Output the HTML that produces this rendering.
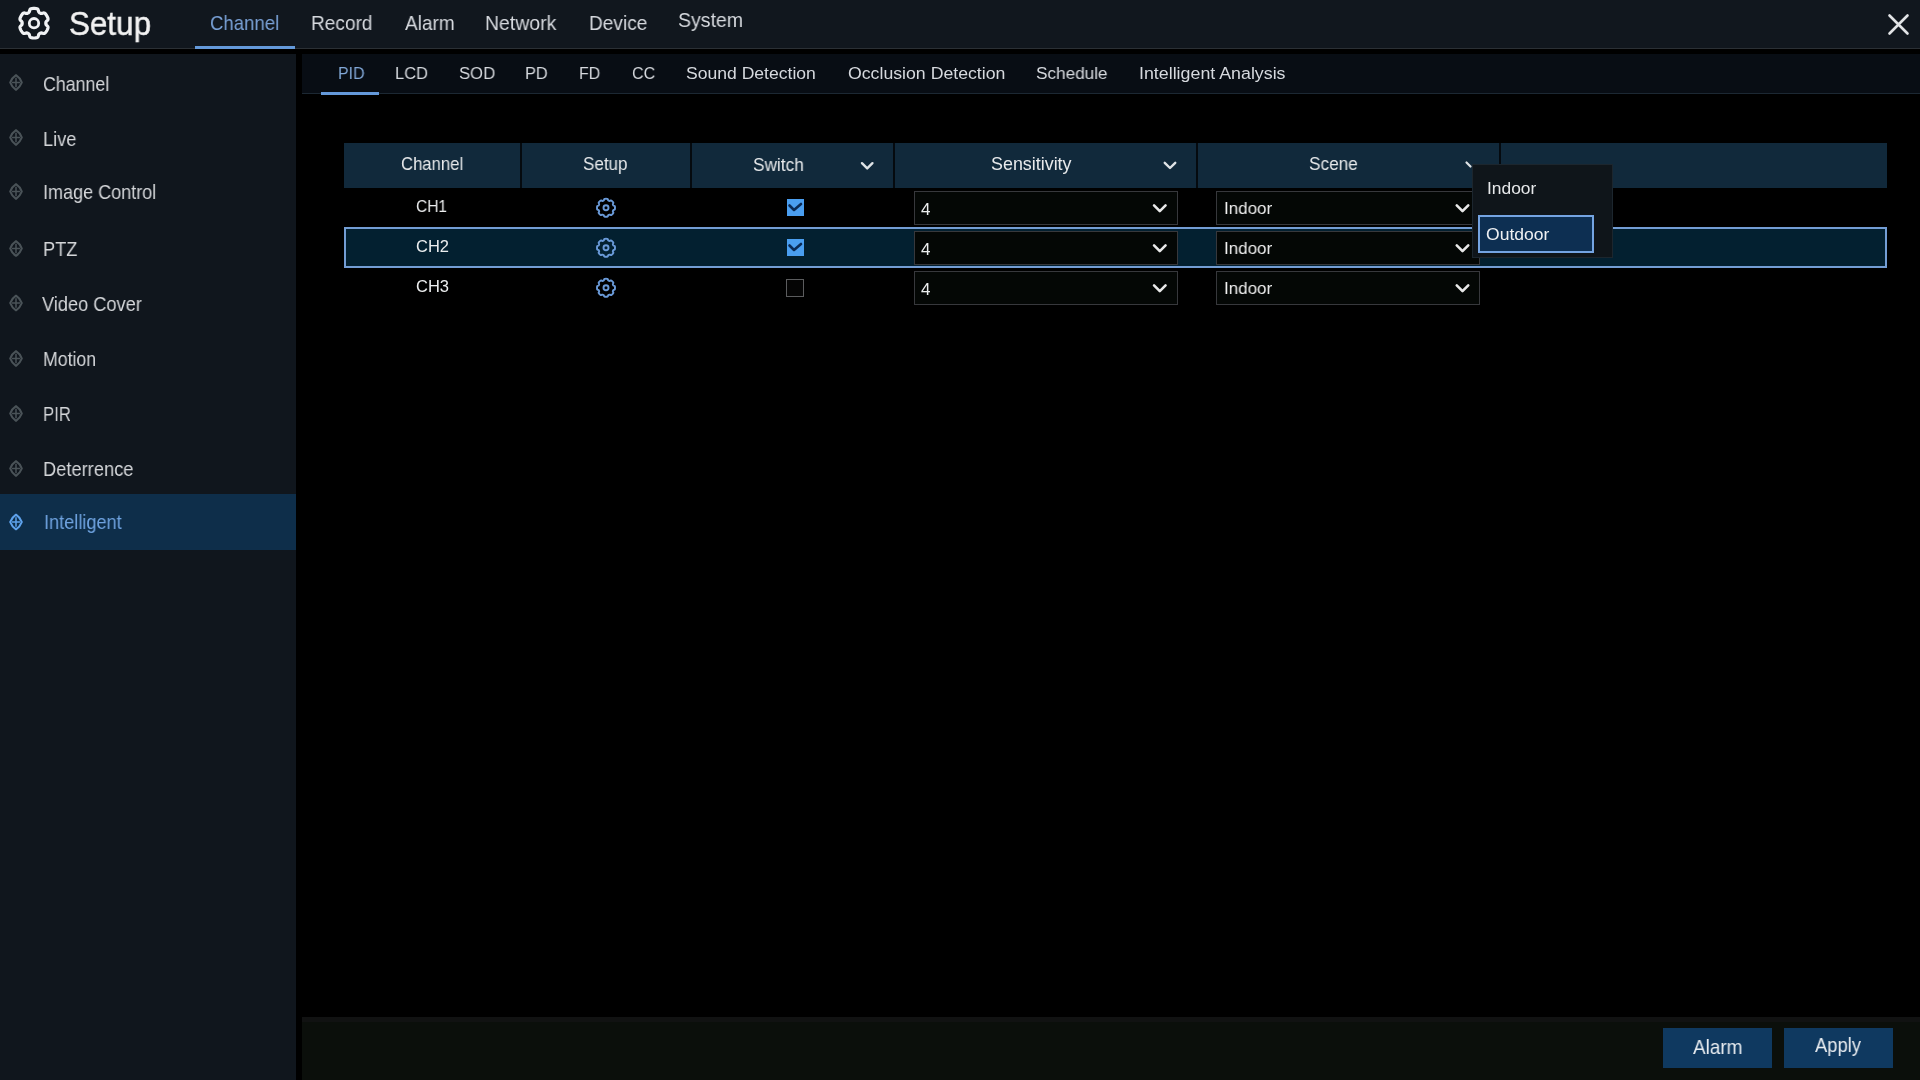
<!DOCTYPE html>
<html><head><meta charset="utf-8"><style>
*{margin:0;padding:0;box-sizing:border-box}
html,body{width:1920px;height:1080px;overflow:hidden;background:#000;font-family:"Liberation Sans",sans-serif}
.a{position:absolute}
.t{position:absolute;white-space:nowrap;will-change:transform}
svg{position:absolute;left:0;top:0}
</style></head><body>
<!-- header -->
<div class="a" style="left:0;top:0;width:1920px;height:48px;background:#11171e"></div>
<div class="a" style="left:0;top:48px;width:1920px;height:1px;background:#2b3035"></div>
<div class="a" style="left:195px;top:46px;width:100px;height:3px;background:#6499da"></div>
<!-- sidebar -->
<div class="a" style="left:0;top:54px;width:296px;height:1026px;background:#10161d"></div>
<div class="a" style="left:0;top:494px;width:296px;height:56px;background:#0e2e4a"></div>
<!-- sub tabs bar -->
<div class="a" style="left:302px;top:54px;width:1618px;height:40px;background:#080d14"></div>
<div class="a" style="left:302px;top:93px;width:1618px;height:1px;background:#1c2833"></div>
<div class="a" style="left:321px;top:92px;width:58px;height:3px;background:#6499da"></div>
<!-- table header -->
<div class="a" style="left:344px;top:143px;width:1543px;height:45px;background:#11293b"></div>
<div class="a" style="left:520px;top:143px;width:2px;height:45px;background:#050a0f"></div>
<div class="a" style="left:690px;top:143px;width:2px;height:45px;background:#050a0f"></div>
<div class="a" style="left:893px;top:143px;width:2px;height:45px;background:#050a0f"></div>
<div class="a" style="left:1196px;top:143px;width:2px;height:45px;background:#050a0f"></div>
<div class="a" style="left:1499px;top:143px;width:2px;height:45px;background:#050a0f"></div>
<!-- highlighted row -->
<div class="a" style="left:344px;top:227px;width:1543px;height:41px;background:#032030;border:2px solid #739dd4"></div>
<!-- selects -->
<div class="a" style="left:914px;top:191px;width:264px;height:34px;background:#040705;border:1px solid #37383c"></div>
<div class="a" style="left:1216px;top:191px;width:264px;height:34px;background:#040705;border:1px solid #37383c"></div>
<div class="a" style="left:914px;top:231px;width:264px;height:34px;background:#040705;border:1px solid #37383c"></div>
<div class="a" style="left:1216px;top:231px;width:264px;height:34px;background:#040705;border:1px solid #37383c"></div>
<div class="a" style="left:914px;top:271px;width:264px;height:34px;background:#040705;border:1px solid #37383c"></div>
<div class="a" style="left:1216px;top:271px;width:264px;height:34px;background:#040705;border:1px solid #37383c"></div>

<!-- checkboxes -->
<div class="a" style="left:787px;top:199px;width:17px;height:17px;background:#4a9ef0"></div>
<div class="a" style="left:787px;top:239px;width:17px;height:17px;background:#4a9ef0"></div>
<div class="a" style="left:786px;top:279px;width:18px;height:18px;border:1.5px solid #5b5c5e;background:#050505"></div>
<!-- popup -->
<div class="a" style="left:1472px;top:164px;width:141px;height:94px;background:#0f151a;border:1px solid #1c262e"></div>
<div class="a" style="left:1478px;top:215px;width:116px;height:38px;background:#0d2f52;border:2px solid #74a4e2"></div>
<!-- bottom bar -->
<div class="a" style="left:302px;top:1017px;width:1618px;height:63px;background:#0b0f0b;border-top:5px solid #111212"></div>
<div class="a" style="left:1663px;top:1028px;width:109px;height:40px;background:#0f3960"></div>
<div class="a" style="left:1784px;top:1028px;width:109px;height:40px;background:#0f3960"></div>
<svg width="1920" height="1080" viewBox="0 0 1920 1080">
<path d="M45.81,23.20 L45.82,22.89 L45.85,22.58 L45.90,22.26 L46.02,21.94 L46.21,21.59 L46.53,21.22 L46.96,20.80 L47.42,20.35 L47.78,19.89 L47.98,19.45 L48.03,19.04 L48.00,18.65 L47.92,18.27 L47.80,17.90 L47.66,17.54 L47.52,17.18 L47.36,16.83 L47.19,16.48 L47.01,16.14 L46.82,15.80 L46.62,15.47 L46.41,15.14 L46.20,14.82 L45.97,14.50 L45.73,14.20 L45.49,13.90 L45.22,13.61 L44.94,13.35 L44.62,13.12 L44.23,12.97 L43.76,12.92 L43.18,13.00 L42.56,13.17 L41.99,13.34 L41.50,13.43 L41.10,13.43 L40.76,13.36 L40.46,13.25 L40.18,13.12 L39.91,12.97 L39.64,12.81 L39.39,12.63 L39.14,12.42 L38.91,12.16 L38.71,11.82 L38.55,11.35 L38.40,10.77 L38.24,10.15 L38.03,9.61 L37.75,9.22 L37.42,8.97 L37.06,8.80 L36.69,8.69 L36.31,8.60 L35.93,8.54 L35.55,8.49 L35.16,8.45 L34.77,8.42 L34.39,8.41 L34.00,8.40 L33.61,8.41 L33.23,8.42 L32.84,8.45 L32.45,8.49 L32.07,8.54 L31.69,8.60 L31.31,8.69 L30.94,8.80 L30.58,8.97 L30.25,9.22 L29.97,9.61 L29.76,10.15 L29.60,10.77 L29.45,11.35 L29.29,11.82 L29.09,12.16 L28.86,12.42 L28.61,12.63 L28.36,12.81 L28.09,12.97 L27.82,13.12 L27.54,13.25 L27.24,13.36 L26.90,13.43 L26.50,13.43 L26.01,13.34 L25.44,13.17 L24.82,13.00 L24.24,12.92 L23.77,12.97 L23.38,13.12 L23.06,13.35 L22.78,13.61 L22.51,13.90 L22.27,14.20 L22.03,14.50 L21.80,14.82 L21.59,15.14 L21.38,15.47 L21.18,15.80 L20.99,16.14 L20.81,16.48 L20.64,16.83 L20.48,17.18 L20.34,17.54 L20.20,17.90 L20.08,18.27 L20.00,18.65 L19.97,19.04 L20.02,19.45 L20.22,19.89 L20.58,20.35 L21.04,20.80 L21.47,21.22 L21.79,21.59 L21.98,21.94 L22.10,22.26 L22.15,22.58 L22.18,22.89 L22.19,23.20 L22.18,23.51 L22.15,23.82 L22.10,24.14 L21.98,24.46 L21.79,24.81 L21.47,25.18 L21.04,25.60 L20.58,26.05 L20.22,26.51 L20.02,26.95 L19.97,27.36 L20.00,27.75 L20.08,28.13 L20.20,28.50 L20.34,28.86 L20.48,29.22 L20.64,29.57 L20.81,29.92 L20.99,30.26 L21.18,30.60 L21.38,30.93 L21.59,31.26 L21.80,31.58 L22.03,31.90 L22.27,32.20 L22.51,32.50 L22.78,32.79 L23.06,33.05 L23.38,33.28 L23.77,33.43 L24.24,33.48 L24.82,33.40 L25.44,33.23 L26.01,33.06 L26.50,32.97 L26.90,32.97 L27.24,33.04 L27.54,33.15 L27.82,33.28 L28.09,33.43 L28.36,33.59 L28.61,33.77 L28.86,33.98 L29.09,34.24 L29.29,34.58 L29.45,35.05 L29.60,35.63 L29.76,36.25 L29.97,36.79 L30.25,37.18 L30.58,37.43 L30.94,37.60 L31.31,37.71 L31.69,37.80 L32.07,37.86 L32.45,37.91 L32.84,37.95 L33.23,37.98 L33.61,37.99 L34.00,38.00 L34.39,37.99 L34.77,37.98 L35.16,37.95 L35.55,37.91 L35.93,37.86 L36.31,37.80 L36.69,37.71 L37.06,37.60 L37.42,37.43 L37.75,37.18 L38.03,36.79 L38.24,36.25 L38.40,35.63 L38.55,35.05 L38.71,34.58 L38.91,34.24 L39.14,33.98 L39.39,33.77 L39.64,33.59 L39.91,33.43 L40.18,33.28 L40.46,33.15 L40.76,33.04 L41.10,32.97 L41.50,32.97 L41.99,33.06 L42.56,33.23 L43.18,33.40 L43.76,33.48 L44.23,33.43 L44.62,33.28 L44.94,33.05 L45.22,32.79 L45.49,32.50 L45.73,32.20 L45.97,31.90 L46.20,31.58 L46.41,31.26 L46.62,30.93 L46.82,30.60 L47.01,30.26 L47.19,29.92 L47.36,29.57 L47.52,29.22 L47.66,28.86 L47.80,28.50 L47.92,28.13 L48.00,27.75 L48.03,27.36 L47.98,26.95 L47.78,26.51 L47.42,26.05 L46.96,25.60 L46.53,25.18 L46.21,24.81 L46.02,24.46 L45.90,24.14 L45.85,23.82 L45.82,23.51 Z" fill="none" stroke="#f0f2f4" stroke-width="3.2"/>
<circle cx="34" cy="23.2" r="4.7" fill="none" stroke="#f0f2f4" stroke-width="2.8"/>
<path d="M1889.5,15.5 L1907.5,33.5 M1907.5,15.5 L1889.5,33.5" stroke="#e2e4e6" stroke-width="2.6" stroke-linecap="round"/>
<path d="M16,75.2 Q20.18,77.97 21.8,82.5 Q20.18,87.03 16,89.8 Q11.82,87.03 10.2,82.5 Q11.82,77.97 16,75.2 Z" fill="none" stroke="#4a5358" stroke-width="2.1" stroke-linejoin="round"/><path d="M16,77.7 V87.3 M12,82.5 H20" stroke="#4a5358" stroke-width="1.5"/><path d="M16,130.2 Q20.18,132.97 21.8,137.5 Q20.18,142.03 16,144.8 Q11.82,142.03 10.2,137.5 Q11.82,132.97 16,130.2 Z" fill="none" stroke="#4a5358" stroke-width="2.1" stroke-linejoin="round"/><path d="M16,132.7 V142.3 M12,137.5 H20" stroke="#4a5358" stroke-width="1.5"/><path d="M16,184.2 Q20.18,186.97 21.8,191.5 Q20.18,196.03 16,198.8 Q11.82,196.03 10.2,191.5 Q11.82,186.97 16,184.2 Z" fill="none" stroke="#4a5358" stroke-width="2.1" stroke-linejoin="round"/><path d="M16,186.7 V196.3 M12,191.5 H20" stroke="#4a5358" stroke-width="1.5"/><path d="M16,241.2 Q20.18,243.97 21.8,248.5 Q20.18,253.03 16,255.8 Q11.82,253.03 10.2,248.5 Q11.82,243.97 16,241.2 Z" fill="none" stroke="#4a5358" stroke-width="2.1" stroke-linejoin="round"/><path d="M16,243.7 V253.3 M12,248.5 H20" stroke="#4a5358" stroke-width="1.5"/><path d="M16,295.7 Q20.18,298.47 21.8,303 Q20.18,307.53 16,310.3 Q11.82,307.53 10.2,303 Q11.82,298.47 16,295.7 Z" fill="none" stroke="#4a5358" stroke-width="2.1" stroke-linejoin="round"/><path d="M16,298.2 V307.8 M12,303 H20" stroke="#4a5358" stroke-width="1.5"/><path d="M16,351.2 Q20.18,353.97 21.8,358.5 Q20.18,363.03 16,365.8 Q11.82,363.03 10.2,358.5 Q11.82,353.97 16,351.2 Z" fill="none" stroke="#4a5358" stroke-width="2.1" stroke-linejoin="round"/><path d="M16,353.7 V363.3 M12,358.5 H20" stroke="#4a5358" stroke-width="1.5"/><path d="M16,406.2 Q20.18,408.97 21.8,413.5 Q20.18,418.03 16,420.8 Q11.82,418.03 10.2,413.5 Q11.82,408.97 16,406.2 Z" fill="none" stroke="#4a5358" stroke-width="2.1" stroke-linejoin="round"/><path d="M16,408.7 V418.3 M12,413.5 H20" stroke="#4a5358" stroke-width="1.5"/><path d="M16,461.2 Q20.18,463.97 21.8,468.5 Q20.18,473.03 16,475.8 Q11.82,473.03 10.2,468.5 Q11.82,463.97 16,461.2 Z" fill="none" stroke="#4a5358" stroke-width="2.1" stroke-linejoin="round"/><path d="M16,463.7 V473.3 M12,468.5 H20" stroke="#4a5358" stroke-width="1.5"/><path d="M16,514.7 Q20.18,517.47 21.8,522 Q20.18,526.53 16,529.3 Q11.82,526.53 10.2,522 Q11.82,517.47 16,514.7 Z" fill="none" stroke="#5ea2ec" stroke-width="2.1" stroke-linejoin="round"/><path d="M16,517.2 V526.8 M12,522 H20" stroke="#5ea2ec" stroke-width="1.5"/>
<path d="M861.95,163.20 L867.20,168.40 L872.45,163.20" fill="none" stroke="#dfe3e6" stroke-width="2.4" stroke-linecap="round" stroke-linejoin="round"/><path d="M1164.75,162.80 L1170.00,168.00 L1175.25,162.80" fill="none" stroke="#dfe3e6" stroke-width="2.4" stroke-linecap="round" stroke-linejoin="round"/><path d="M1154.05,205.30 L1159.80,211.10 L1165.55,205.30" fill="none" stroke="#e8e8e8" stroke-width="2.6" stroke-linecap="round" stroke-linejoin="round"/><path d="M1456.75,205.30 L1462.50,211.10 L1468.25,205.30" fill="none" stroke="#e8e8e8" stroke-width="2.6" stroke-linecap="round" stroke-linejoin="round"/><path d="M1154.05,245.30 L1159.80,251.10 L1165.55,245.30" fill="none" stroke="#e8e8e8" stroke-width="2.6" stroke-linecap="round" stroke-linejoin="round"/><path d="M1456.75,245.30 L1462.50,251.10 L1468.25,245.30" fill="none" stroke="#e8e8e8" stroke-width="2.6" stroke-linecap="round" stroke-linejoin="round"/><path d="M1154.05,285.30 L1159.80,291.10 L1165.55,285.30" fill="none" stroke="#e8e8e8" stroke-width="2.6" stroke-linecap="round" stroke-linejoin="round"/><path d="M1456.75,285.30 L1462.50,291.10 L1468.25,285.30" fill="none" stroke="#e8e8e8" stroke-width="2.6" stroke-linecap="round" stroke-linejoin="round"/>
<g transform="translate(606,207.8)"><path d="M9.00,0.00 L9.00,-0.24 L8.99,-0.47 L8.97,-0.71 L8.95,-0.94 L8.92,-1.17 L8.86,-1.40 L8.77,-1.62 L8.55,-1.82 L8.15,-1.96 L7.73,-2.07 L7.46,-2.21 L7.31,-2.37 L7.21,-2.55 L7.12,-2.73 L7.05,-2.92 L6.97,-3.10 L6.90,-3.29 L6.85,-3.49 L6.84,-3.71 L6.93,-4.00 L7.15,-4.38 L7.33,-4.76 L7.35,-5.05 L7.26,-5.27 L7.13,-5.47 L6.99,-5.66 L6.84,-5.84 L6.69,-6.02 L6.53,-6.20 L6.36,-6.36 L6.20,-6.53 L6.02,-6.69 L5.84,-6.84 L5.66,-6.99 L5.47,-7.13 L5.27,-7.26 L5.05,-7.35 L4.76,-7.33 L4.38,-7.15 L4.00,-6.93 L3.71,-6.84 L3.49,-6.85 L3.29,-6.90 L3.10,-6.97 L2.92,-7.05 L2.73,-7.12 L2.55,-7.21 L2.37,-7.31 L2.21,-7.46 L2.07,-7.73 L1.96,-8.15 L1.82,-8.55 L1.62,-8.77 L1.40,-8.86 L1.17,-8.92 L0.94,-8.95 L0.71,-8.97 L0.47,-8.99 L0.24,-9.00 L0.00,-9.00 L-0.24,-9.00 L-0.47,-8.99 L-0.71,-8.97 L-0.94,-8.95 L-1.17,-8.92 L-1.40,-8.86 L-1.62,-8.77 L-1.82,-8.55 L-1.96,-8.15 L-2.07,-7.73 L-2.21,-7.46 L-2.37,-7.31 L-2.55,-7.21 L-2.73,-7.12 L-2.92,-7.05 L-3.10,-6.97 L-3.29,-6.90 L-3.49,-6.85 L-3.71,-6.84 L-4.00,-6.93 L-4.38,-7.15 L-4.76,-7.33 L-5.05,-7.35 L-5.27,-7.26 L-5.47,-7.13 L-5.66,-6.99 L-5.84,-6.84 L-6.02,-6.69 L-6.20,-6.53 L-6.36,-6.36 L-6.53,-6.20 L-6.69,-6.02 L-6.84,-5.84 L-6.99,-5.66 L-7.13,-5.47 L-7.26,-5.27 L-7.35,-5.05 L-7.33,-4.76 L-7.15,-4.38 L-6.93,-4.00 L-6.84,-3.71 L-6.85,-3.49 L-6.90,-3.29 L-6.97,-3.10 L-7.05,-2.92 L-7.12,-2.73 L-7.21,-2.55 L-7.31,-2.37 L-7.46,-2.21 L-7.73,-2.07 L-8.15,-1.96 L-8.55,-1.82 L-8.77,-1.62 L-8.86,-1.40 L-8.92,-1.17 L-8.95,-0.94 L-8.97,-0.71 L-8.99,-0.47 L-9.00,-0.24 L-9.00,-0.00 L-9.00,0.24 L-8.99,0.47 L-8.97,0.71 L-8.95,0.94 L-8.92,1.17 L-8.86,1.40 L-8.77,1.62 L-8.55,1.82 L-8.15,1.96 L-7.73,2.07 L-7.46,2.21 L-7.31,2.37 L-7.21,2.55 L-7.12,2.73 L-7.05,2.92 L-6.97,3.10 L-6.90,3.29 L-6.85,3.49 L-6.84,3.71 L-6.93,4.00 L-7.15,4.38 L-7.33,4.76 L-7.35,5.05 L-7.26,5.27 L-7.13,5.47 L-6.99,5.66 L-6.84,5.84 L-6.69,6.02 L-6.53,6.20 L-6.36,6.36 L-6.20,6.53 L-6.02,6.69 L-5.84,6.84 L-5.66,6.99 L-5.47,7.13 L-5.27,7.26 L-5.05,7.35 L-4.76,7.33 L-4.38,7.15 L-4.00,6.93 L-3.71,6.84 L-3.49,6.85 L-3.29,6.90 L-3.10,6.97 L-2.92,7.05 L-2.73,7.12 L-2.55,7.21 L-2.37,7.31 L-2.21,7.46 L-2.07,7.73 L-1.96,8.15 L-1.82,8.55 L-1.62,8.77 L-1.40,8.86 L-1.17,8.92 L-0.94,8.95 L-0.71,8.97 L-0.47,8.99 L-0.24,9.00 L-0.00,9.00 L0.24,9.00 L0.47,8.99 L0.71,8.97 L0.94,8.95 L1.17,8.92 L1.40,8.86 L1.62,8.77 L1.82,8.55 L1.96,8.15 L2.07,7.73 L2.21,7.46 L2.37,7.31 L2.55,7.21 L2.73,7.12 L2.92,7.05 L3.10,6.97 L3.29,6.90 L3.49,6.85 L3.71,6.84 L4.00,6.93 L4.38,7.15 L4.76,7.33 L5.05,7.35 L5.27,7.26 L5.47,7.13 L5.66,6.99 L5.84,6.84 L6.02,6.69 L6.20,6.53 L6.36,6.36 L6.53,6.20 L6.69,6.02 L6.84,5.84 L6.99,5.66 L7.13,5.47 L7.26,5.27 L7.35,5.05 L7.33,4.76 L7.15,4.38 L6.93,4.00 L6.84,3.71 L6.85,3.49 L6.90,3.29 L6.97,3.10 L7.05,2.92 L7.12,2.73 L7.21,2.55 L7.31,2.37 L7.46,2.21 L7.73,2.07 L8.15,1.96 L8.55,1.82 L8.77,1.62 L8.86,1.40 L8.92,1.17 L8.95,0.94 L8.97,0.71 L8.99,0.47 L9.00,0.24 Z" fill="none" stroke="#6a9ad8" stroke-width="1.9"/><circle cx="0" cy="0" r="2.5" fill="none" stroke="#6a9ad8" stroke-width="1.9"/></g><g transform="translate(606,247.8)"><path d="M9.00,0.00 L9.00,-0.24 L8.99,-0.47 L8.97,-0.71 L8.95,-0.94 L8.92,-1.17 L8.86,-1.40 L8.77,-1.62 L8.55,-1.82 L8.15,-1.96 L7.73,-2.07 L7.46,-2.21 L7.31,-2.37 L7.21,-2.55 L7.12,-2.73 L7.05,-2.92 L6.97,-3.10 L6.90,-3.29 L6.85,-3.49 L6.84,-3.71 L6.93,-4.00 L7.15,-4.38 L7.33,-4.76 L7.35,-5.05 L7.26,-5.27 L7.13,-5.47 L6.99,-5.66 L6.84,-5.84 L6.69,-6.02 L6.53,-6.20 L6.36,-6.36 L6.20,-6.53 L6.02,-6.69 L5.84,-6.84 L5.66,-6.99 L5.47,-7.13 L5.27,-7.26 L5.05,-7.35 L4.76,-7.33 L4.38,-7.15 L4.00,-6.93 L3.71,-6.84 L3.49,-6.85 L3.29,-6.90 L3.10,-6.97 L2.92,-7.05 L2.73,-7.12 L2.55,-7.21 L2.37,-7.31 L2.21,-7.46 L2.07,-7.73 L1.96,-8.15 L1.82,-8.55 L1.62,-8.77 L1.40,-8.86 L1.17,-8.92 L0.94,-8.95 L0.71,-8.97 L0.47,-8.99 L0.24,-9.00 L0.00,-9.00 L-0.24,-9.00 L-0.47,-8.99 L-0.71,-8.97 L-0.94,-8.95 L-1.17,-8.92 L-1.40,-8.86 L-1.62,-8.77 L-1.82,-8.55 L-1.96,-8.15 L-2.07,-7.73 L-2.21,-7.46 L-2.37,-7.31 L-2.55,-7.21 L-2.73,-7.12 L-2.92,-7.05 L-3.10,-6.97 L-3.29,-6.90 L-3.49,-6.85 L-3.71,-6.84 L-4.00,-6.93 L-4.38,-7.15 L-4.76,-7.33 L-5.05,-7.35 L-5.27,-7.26 L-5.47,-7.13 L-5.66,-6.99 L-5.84,-6.84 L-6.02,-6.69 L-6.20,-6.53 L-6.36,-6.36 L-6.53,-6.20 L-6.69,-6.02 L-6.84,-5.84 L-6.99,-5.66 L-7.13,-5.47 L-7.26,-5.27 L-7.35,-5.05 L-7.33,-4.76 L-7.15,-4.38 L-6.93,-4.00 L-6.84,-3.71 L-6.85,-3.49 L-6.90,-3.29 L-6.97,-3.10 L-7.05,-2.92 L-7.12,-2.73 L-7.21,-2.55 L-7.31,-2.37 L-7.46,-2.21 L-7.73,-2.07 L-8.15,-1.96 L-8.55,-1.82 L-8.77,-1.62 L-8.86,-1.40 L-8.92,-1.17 L-8.95,-0.94 L-8.97,-0.71 L-8.99,-0.47 L-9.00,-0.24 L-9.00,-0.00 L-9.00,0.24 L-8.99,0.47 L-8.97,0.71 L-8.95,0.94 L-8.92,1.17 L-8.86,1.40 L-8.77,1.62 L-8.55,1.82 L-8.15,1.96 L-7.73,2.07 L-7.46,2.21 L-7.31,2.37 L-7.21,2.55 L-7.12,2.73 L-7.05,2.92 L-6.97,3.10 L-6.90,3.29 L-6.85,3.49 L-6.84,3.71 L-6.93,4.00 L-7.15,4.38 L-7.33,4.76 L-7.35,5.05 L-7.26,5.27 L-7.13,5.47 L-6.99,5.66 L-6.84,5.84 L-6.69,6.02 L-6.53,6.20 L-6.36,6.36 L-6.20,6.53 L-6.02,6.69 L-5.84,6.84 L-5.66,6.99 L-5.47,7.13 L-5.27,7.26 L-5.05,7.35 L-4.76,7.33 L-4.38,7.15 L-4.00,6.93 L-3.71,6.84 L-3.49,6.85 L-3.29,6.90 L-3.10,6.97 L-2.92,7.05 L-2.73,7.12 L-2.55,7.21 L-2.37,7.31 L-2.21,7.46 L-2.07,7.73 L-1.96,8.15 L-1.82,8.55 L-1.62,8.77 L-1.40,8.86 L-1.17,8.92 L-0.94,8.95 L-0.71,8.97 L-0.47,8.99 L-0.24,9.00 L-0.00,9.00 L0.24,9.00 L0.47,8.99 L0.71,8.97 L0.94,8.95 L1.17,8.92 L1.40,8.86 L1.62,8.77 L1.82,8.55 L1.96,8.15 L2.07,7.73 L2.21,7.46 L2.37,7.31 L2.55,7.21 L2.73,7.12 L2.92,7.05 L3.10,6.97 L3.29,6.90 L3.49,6.85 L3.71,6.84 L4.00,6.93 L4.38,7.15 L4.76,7.33 L5.05,7.35 L5.27,7.26 L5.47,7.13 L5.66,6.99 L5.84,6.84 L6.02,6.69 L6.20,6.53 L6.36,6.36 L6.53,6.20 L6.69,6.02 L6.84,5.84 L6.99,5.66 L7.13,5.47 L7.26,5.27 L7.35,5.05 L7.33,4.76 L7.15,4.38 L6.93,4.00 L6.84,3.71 L6.85,3.49 L6.90,3.29 L6.97,3.10 L7.05,2.92 L7.12,2.73 L7.21,2.55 L7.31,2.37 L7.46,2.21 L7.73,2.07 L8.15,1.96 L8.55,1.82 L8.77,1.62 L8.86,1.40 L8.92,1.17 L8.95,0.94 L8.97,0.71 L8.99,0.47 L9.00,0.24 Z" fill="none" stroke="#6a9ad8" stroke-width="1.9"/><circle cx="0" cy="0" r="2.5" fill="none" stroke="#6a9ad8" stroke-width="1.9"/></g><g transform="translate(606,287.8)"><path d="M9.00,0.00 L9.00,-0.24 L8.99,-0.47 L8.97,-0.71 L8.95,-0.94 L8.92,-1.17 L8.86,-1.40 L8.77,-1.62 L8.55,-1.82 L8.15,-1.96 L7.73,-2.07 L7.46,-2.21 L7.31,-2.37 L7.21,-2.55 L7.12,-2.73 L7.05,-2.92 L6.97,-3.10 L6.90,-3.29 L6.85,-3.49 L6.84,-3.71 L6.93,-4.00 L7.15,-4.38 L7.33,-4.76 L7.35,-5.05 L7.26,-5.27 L7.13,-5.47 L6.99,-5.66 L6.84,-5.84 L6.69,-6.02 L6.53,-6.20 L6.36,-6.36 L6.20,-6.53 L6.02,-6.69 L5.84,-6.84 L5.66,-6.99 L5.47,-7.13 L5.27,-7.26 L5.05,-7.35 L4.76,-7.33 L4.38,-7.15 L4.00,-6.93 L3.71,-6.84 L3.49,-6.85 L3.29,-6.90 L3.10,-6.97 L2.92,-7.05 L2.73,-7.12 L2.55,-7.21 L2.37,-7.31 L2.21,-7.46 L2.07,-7.73 L1.96,-8.15 L1.82,-8.55 L1.62,-8.77 L1.40,-8.86 L1.17,-8.92 L0.94,-8.95 L0.71,-8.97 L0.47,-8.99 L0.24,-9.00 L0.00,-9.00 L-0.24,-9.00 L-0.47,-8.99 L-0.71,-8.97 L-0.94,-8.95 L-1.17,-8.92 L-1.40,-8.86 L-1.62,-8.77 L-1.82,-8.55 L-1.96,-8.15 L-2.07,-7.73 L-2.21,-7.46 L-2.37,-7.31 L-2.55,-7.21 L-2.73,-7.12 L-2.92,-7.05 L-3.10,-6.97 L-3.29,-6.90 L-3.49,-6.85 L-3.71,-6.84 L-4.00,-6.93 L-4.38,-7.15 L-4.76,-7.33 L-5.05,-7.35 L-5.27,-7.26 L-5.47,-7.13 L-5.66,-6.99 L-5.84,-6.84 L-6.02,-6.69 L-6.20,-6.53 L-6.36,-6.36 L-6.53,-6.20 L-6.69,-6.02 L-6.84,-5.84 L-6.99,-5.66 L-7.13,-5.47 L-7.26,-5.27 L-7.35,-5.05 L-7.33,-4.76 L-7.15,-4.38 L-6.93,-4.00 L-6.84,-3.71 L-6.85,-3.49 L-6.90,-3.29 L-6.97,-3.10 L-7.05,-2.92 L-7.12,-2.73 L-7.21,-2.55 L-7.31,-2.37 L-7.46,-2.21 L-7.73,-2.07 L-8.15,-1.96 L-8.55,-1.82 L-8.77,-1.62 L-8.86,-1.40 L-8.92,-1.17 L-8.95,-0.94 L-8.97,-0.71 L-8.99,-0.47 L-9.00,-0.24 L-9.00,-0.00 L-9.00,0.24 L-8.99,0.47 L-8.97,0.71 L-8.95,0.94 L-8.92,1.17 L-8.86,1.40 L-8.77,1.62 L-8.55,1.82 L-8.15,1.96 L-7.73,2.07 L-7.46,2.21 L-7.31,2.37 L-7.21,2.55 L-7.12,2.73 L-7.05,2.92 L-6.97,3.10 L-6.90,3.29 L-6.85,3.49 L-6.84,3.71 L-6.93,4.00 L-7.15,4.38 L-7.33,4.76 L-7.35,5.05 L-7.26,5.27 L-7.13,5.47 L-6.99,5.66 L-6.84,5.84 L-6.69,6.02 L-6.53,6.20 L-6.36,6.36 L-6.20,6.53 L-6.02,6.69 L-5.84,6.84 L-5.66,6.99 L-5.47,7.13 L-5.27,7.26 L-5.05,7.35 L-4.76,7.33 L-4.38,7.15 L-4.00,6.93 L-3.71,6.84 L-3.49,6.85 L-3.29,6.90 L-3.10,6.97 L-2.92,7.05 L-2.73,7.12 L-2.55,7.21 L-2.37,7.31 L-2.21,7.46 L-2.07,7.73 L-1.96,8.15 L-1.82,8.55 L-1.62,8.77 L-1.40,8.86 L-1.17,8.92 L-0.94,8.95 L-0.71,8.97 L-0.47,8.99 L-0.24,9.00 L-0.00,9.00 L0.24,9.00 L0.47,8.99 L0.71,8.97 L0.94,8.95 L1.17,8.92 L1.40,8.86 L1.62,8.77 L1.82,8.55 L1.96,8.15 L2.07,7.73 L2.21,7.46 L2.37,7.31 L2.55,7.21 L2.73,7.12 L2.92,7.05 L3.10,6.97 L3.29,6.90 L3.49,6.85 L3.71,6.84 L4.00,6.93 L4.38,7.15 L4.76,7.33 L5.05,7.35 L5.27,7.26 L5.47,7.13 L5.66,6.99 L5.84,6.84 L6.02,6.69 L6.20,6.53 L6.36,6.36 L6.53,6.20 L6.69,6.02 L6.84,5.84 L6.99,5.66 L7.13,5.47 L7.26,5.27 L7.35,5.05 L7.33,4.76 L7.15,4.38 L6.93,4.00 L6.84,3.71 L6.85,3.49 L6.90,3.29 L6.97,3.10 L7.05,2.92 L7.12,2.73 L7.21,2.55 L7.31,2.37 L7.46,2.21 L7.73,2.07 L8.15,1.96 L8.55,1.82 L8.77,1.62 L8.86,1.40 L8.92,1.17 L8.95,0.94 L8.97,0.71 L8.99,0.47 L9.00,0.24 Z" fill="none" stroke="#6a9ad8" stroke-width="1.9"/><circle cx="0" cy="0" r="2.5" fill="none" stroke="#6a9ad8" stroke-width="1.9"/></g>
<path d="M789.5,205.5 L794,210 L801,204" fill="none" stroke="#0a2a55" stroke-width="2.6" stroke-linecap="round" stroke-linejoin="round"/>
<path d="M789.5,245.5 L794,250 L801,244" fill="none" stroke="#0a2a55" stroke-width="2.6" stroke-linecap="round" stroke-linejoin="round"/>
<path d="M1466.5,162.5 L1470.5,166.5" stroke="#dfe3e6" stroke-width="2.2" stroke-linecap="round"/>
</svg>
<div class="t" style="left:68.50px;top:5.73px;font-size:33px;line-height:36.861px;color:#f2f2f2;transform:scaleX(0.9507);transform-origin:0 0;-webkit-text-stroke:0.5px #f2f2f2;">Setup</div>
<div class="t" style="left:210.30px;top:11.82px;font-size:20.2px;line-height:22.563px;color:#7aa2d8;transform:scaleX(0.9209);transform-origin:0 0;">Channel</div>
<div class="t" style="left:311.00px;top:11.82px;font-size:20.2px;line-height:22.563px;color:#d6d9de;transform:scaleX(0.9443);transform-origin:0 0;">Record</div>
<div class="t" style="left:404.70px;top:11.82px;font-size:20.2px;line-height:22.563px;color:#d6d9de;transform:scaleX(0.9403);transform-origin:0 0;">Alarm</div>
<div class="t" style="left:485.20px;top:11.52px;font-size:20.2px;line-height:22.563px;color:#d6d9de;transform:scaleX(0.9630);transform-origin:0 0;">Network</div>
<div class="t" style="left:588.70px;top:11.52px;font-size:20.2px;line-height:22.563px;color:#d6d9de;transform:scaleX(0.9441);transform-origin:0 0;">Device</div>
<div class="t" style="left:678.40px;top:9.32px;font-size:20.2px;line-height:22.563px;color:#d6d9de;transform:scaleX(0.9665);transform-origin:0 0;">System</div>
<div class="t" style="left:42.90px;top:72.88px;font-size:19.8px;line-height:22.117px;color:#d4d6d9;transform:scaleX(0.8990);transform-origin:0 0;">Channel</div>
<div class="t" style="left:42.70px;top:127.88px;font-size:19.8px;line-height:22.117px;color:#d4d6d9;transform:scaleX(0.9210);transform-origin:0 0;">Live</div>
<div class="t" style="left:43.00px;top:181.38px;font-size:19.8px;line-height:22.117px;color:#d4d6d9;transform:scaleX(0.9116);transform-origin:0 0;">Image Control</div>
<div class="t" style="left:42.70px;top:237.88px;font-size:19.8px;line-height:22.117px;color:#d4d6d9;transform:scaleX(0.9204);transform-origin:0 0;">PTZ</div>
<div class="t" style="left:42.40px;top:292.78px;font-size:19.8px;line-height:22.117px;color:#d4d6d9;transform:scaleX(0.9197);transform-origin:0 0;">Video Cover</div>
<div class="t" style="left:42.70px;top:347.88px;font-size:19.8px;line-height:22.117px;color:#d4d6d9;transform:scaleX(0.8958);transform-origin:0 0;">Motion</div>
<div class="t" style="left:42.70px;top:402.88px;font-size:19.8px;line-height:22.117px;color:#d4d6d9;transform:scaleX(0.8455);transform-origin:0 0;">PIR</div>
<div class="t" style="left:42.50px;top:457.68px;font-size:19.8px;line-height:22.117px;color:#d4d6d9;transform:scaleX(0.9245);transform-origin:0 0;">Deterrence</div>
<div class="t" style="left:43.75px;top:511.08px;font-size:19.8px;line-height:22.117px;color:#6fa3e0;transform:scaleX(0.9166);transform-origin:0 0;">Intelligent</div>
<div class="t" style="left:337.50px;top:63.85px;font-size:17.4px;line-height:19.436px;color:#82a8d8;transform:scaleX(0.9138);transform-origin:0 0;">PID</div>
<div class="t" style="left:395.00px;top:63.85px;font-size:17.4px;line-height:19.436px;color:#d6d9de;transform:scaleX(0.9462);transform-origin:0 0;">LCD</div>
<div class="t" style="left:458.50px;top:63.85px;font-size:17.4px;line-height:19.436px;color:#d6d9de;transform:scaleX(0.9589);transform-origin:0 0;">SOD</div>
<div class="t" style="left:525.30px;top:63.85px;font-size:17.4px;line-height:19.436px;color:#d6d9de;transform:scaleX(0.9409);transform-origin:0 0;">PD</div>
<div class="t" style="left:578.60px;top:63.85px;font-size:17.4px;line-height:19.436px;color:#d6d9de;transform:scaleX(0.9204);transform-origin:0 0;">FD</div>
<div class="t" style="left:631.70px;top:63.85px;font-size:17.4px;line-height:19.436px;color:#d6d9de;transform:scaleX(0.9274);transform-origin:0 0;">CC</div>
<div class="t" style="left:686.25px;top:64.05px;font-size:17.4px;line-height:19.436px;color:#d6d9de;transform:scaleX(1.0097);transform-origin:0 0;">Sound Detection</div>
<div class="t" style="left:847.50px;top:64.05px;font-size:17.4px;line-height:19.436px;color:#d6d9de;transform:scaleX(1.0178);transform-origin:0 0;">Occlusion Detection</div>
<div class="t" style="left:1035.80px;top:64.05px;font-size:17.4px;line-height:19.436px;color:#d6d9de;transform:scaleX(0.9873);transform-origin:0 0;">Schedule</div>
<div class="t" style="left:1139.00px;top:64.05px;font-size:17.4px;line-height:19.436px;color:#d6d9de;transform:scaleX(1.0241);transform-origin:0 0;">Intelligent Analysis</div>
<div class="t" style="left:400.90px;top:153.90px;font-size:17.9px;line-height:19.994px;color:#e8eaec;transform:scaleX(0.9318);transform-origin:0 0;">Channel</div>
<div class="t" style="left:583.40px;top:153.90px;font-size:17.9px;line-height:19.994px;color:#e8eaec;transform:scaleX(0.9519);transform-origin:0 0;">Setup</div>
<div class="t" style="left:752.50px;top:154.70px;font-size:17.9px;line-height:19.994px;color:#e8eaec;transform:scaleX(0.9649);transform-origin:0 0;">Switch</div>
<div class="t" style="left:990.60px;top:153.80px;font-size:17.9px;line-height:19.994px;color:#e8eaec;">Sensitivity</div>
<div class="t" style="left:1309.20px;top:153.50px;font-size:17.9px;line-height:19.994px;color:#e8eaec;transform:scaleX(0.9616);transform-origin:0 0;">Scene</div>
<div class="t" style="left:416.30px;top:196.97px;font-size:16.5px;line-height:18.430px;color:#eceeef;transform:scaleX(0.9394);transform-origin:0 0;">CH1</div>
<div class="t" style="left:920.60px;top:199.62px;font-size:17px;line-height:18.989px;color:#eceeef;">4</div>
<div class="t" style="left:1223.90px;top:199.45px;font-size:17.4px;line-height:19.436px;color:#f0f0f0;transform:scaleX(0.9782);transform-origin:0 0;">Indoor</div>
<div class="t" style="left:416.30px;top:236.97px;font-size:16.5px;line-height:18.430px;color:#eceeef;">CH2</div>
<div class="t" style="left:920.60px;top:239.62px;font-size:17px;line-height:18.989px;color:#eceeef;">4</div>
<div class="t" style="left:1223.90px;top:239.45px;font-size:17.4px;line-height:19.436px;color:#f0f0f0;transform:scaleX(0.9782);transform-origin:0 0;">Indoor</div>
<div class="t" style="left:416.30px;top:276.97px;font-size:16.5px;line-height:18.430px;color:#eceeef;">CH3</div>
<div class="t" style="left:920.60px;top:279.62px;font-size:17px;line-height:18.989px;color:#eceeef;">4</div>
<div class="t" style="left:1223.90px;top:279.45px;font-size:17.4px;line-height:19.436px;color:#f0f0f0;transform:scaleX(0.9782);transform-origin:0 0;">Indoor</div>
<div class="t" style="left:1486.50px;top:179.31px;font-size:17px;line-height:18.989px;color:#e6e8ea;transform:scaleX(1.0238);transform-origin:0 0;">Indoor</div>
<div class="t" style="left:1486.30px;top:225.22px;font-size:17px;line-height:18.989px;color:#eef0f2;transform:scaleX(1.0314);transform-origin:0 0;">Outdoor</div>
<div class="t" style="left:1692.50px;top:1035.83px;font-size:20.3px;line-height:22.675px;color:#e8ecf0;transform:scaleX(0.9340);transform-origin:0 0;">Alarm</div>
<div class="t" style="left:1814.70px;top:1033.90px;font-size:20px;line-height:22.340px;color:#e8ecf0;transform:scaleX(0.9200);transform-origin:0 0;">Apply</div>

</body></html>
